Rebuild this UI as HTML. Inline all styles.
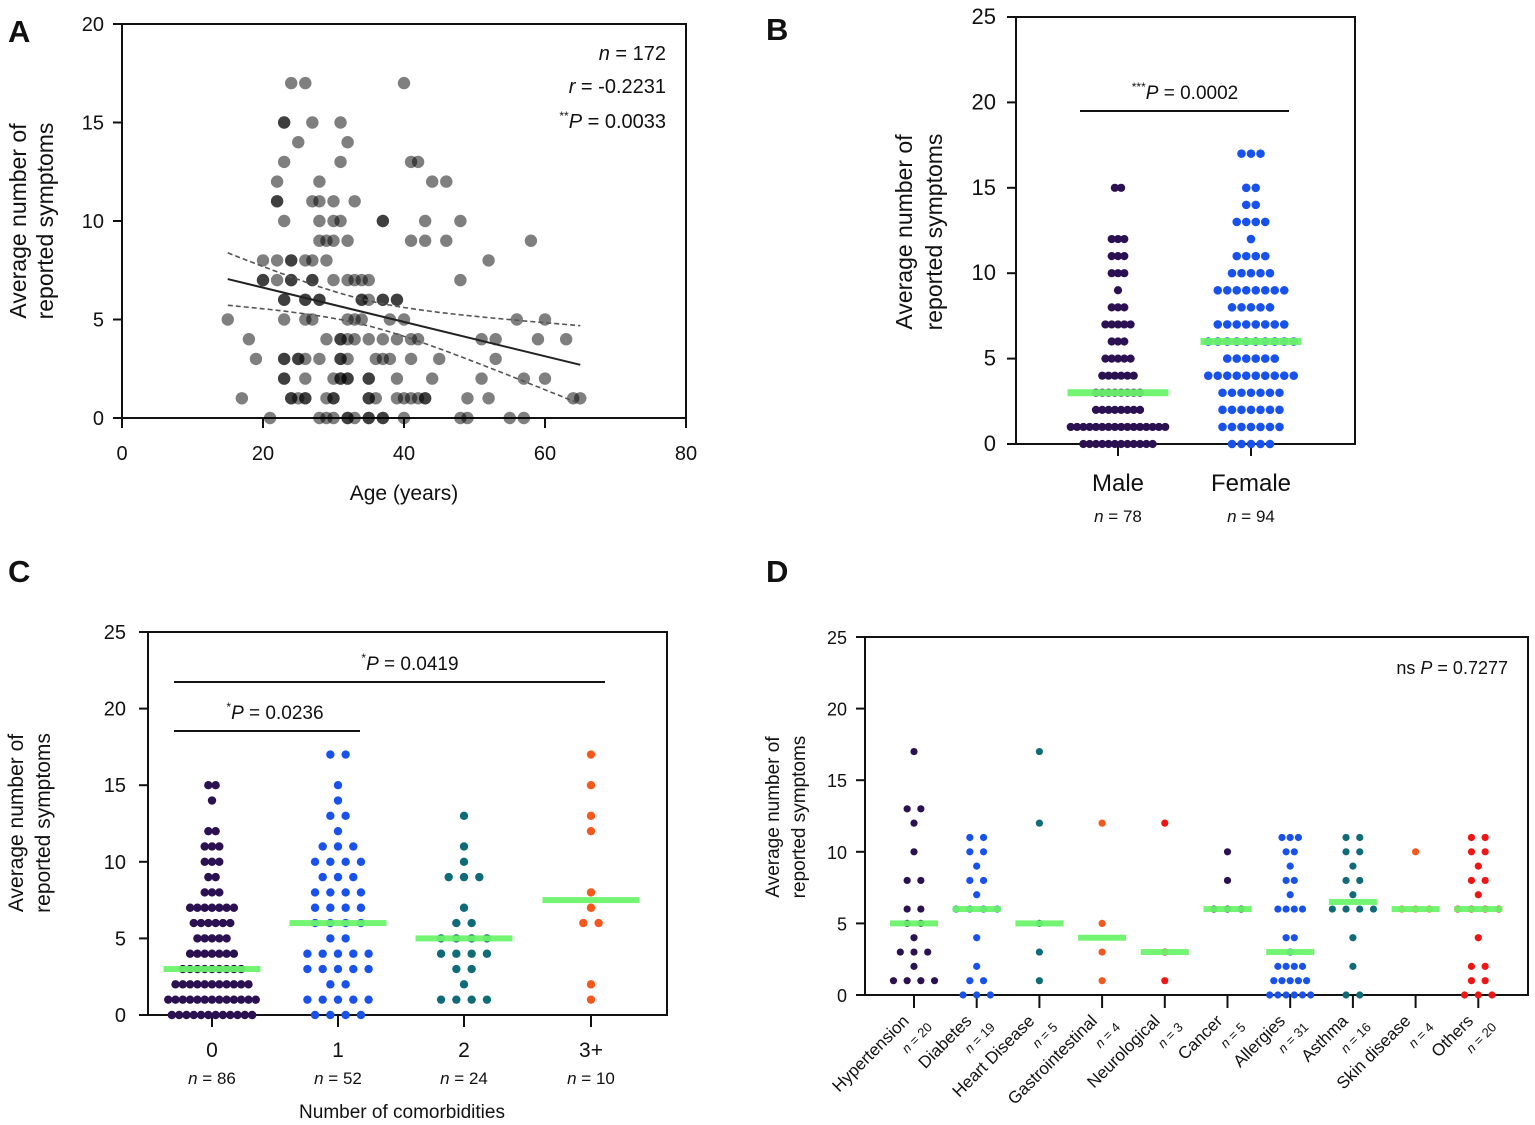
<!DOCTYPE html>
<html><head><meta charset="utf-8"><style>
html,body{margin:0;padding:0;background:#fff;}
svg{display:block;font-family:"Liberation Sans",Arial,sans-serif;}
</style></head><body>
<svg id="fig" width="1535" height="1125" viewBox="0 0 1535 1125" xmlns="http://www.w3.org/2000/svg"></svg>
<script>
// ===== Panel A data =====
const agesA = [24,26,40, 23,23,27,31, 25,32, 23,31,41,42, 22,28,44,46, 22,22,27,28,30,33,
 23,28,30,31,37,37,43,48, 28,29,30,32,41,43,46,58, 20,22,24,24,26,27,29,52,
 20,20,22,24,24,27,27,30,32,33,34,35,48, 23,23,26,26,28,28,34,34,35,37,37,39,39,
 15,23,26,27,32,33,34,38,40,56,60, 18,29,31,31,32,33,35,37,39,41,42,51,53,59,63,
 19,23,23,25,25,26,28,31,31,32,36,37,38,41,45,53, 23,23,26,30,31,31,32,32,35,35,39,44,51,57,60,
 17,24,24,25,26,26,29,30,30,35,35,36,39,40,41,42,43,43,49,52,64,65,
 21,28,29,30,32,32,33,35,35,37,37,40,48,49,55,57];
const symA = [17,17,17, 15,15,15,15, 14,14, 13,13,13,13, 12,12,12,12, 11,11,11,11,11,11,
 10,10,10,10,10,10,10,10, 9,9,9,9,9,9,9,9, 8,8,8,8,8,8,8,8,
 7,7,7,7,7,7,7,7,7,7,7,7,7, 6,6,6,6,6,6,6,6,6,6,6,6,6,
 5,5,5,5,5,5,5,5,5,5,5, 4,4,4,4,4,4,4,4,4,4,4,4,4,4,4,
 3,3,3,3,3,3,3,3,3,3,3,3,3,3,3,3, 2,2,2,2,2,2,2,2,2,2,2,2,2,2,2,
 1,1,1,1,1,1,1,1,1,1,1,1,1,1,1,1,1,1,1,1,1,1,
 0,0,0,0,0,0,0,0,0,0,0,0,0,0,0,0];
const xTicksA = [0,20,40,60,80];
const yTicksA = [0,5,10,15,20];
// ===== Panel B data (counts per symptom value 0..17) =====
const catsB = ["Male","Female"];
const nB = [78,94];
const maleCounts   = [12,16,8,8,6,5,3,5,3,1,3,3,3,0,0,2,0,0];
const femaleCounts = [5,7,7,7,10,6,10,8,5,8,5,4,1,4,2,2,0,3];
const mediansB = [3,6];
const yTicksB = [0,5,10,15,20,25];
// ===== Panel C data =====
const catsC = ["0","1","2","3+"];
const nC = [86,52,24,10];
const c0Counts = [12,13,11,9,7,5,6,7,3,2,3,3,2,0,1,2,0,0];
const c1Counts = [4,5,2,5,5,2,4,4,4,3,4,3,1,2,1,1,0,2];
const c2Counts = [0,4,1,2,4,4,2,1,0,3,1,1,0,1,0,0,0,0];
const c3Counts = [0,1,1,0,0,0,2,1,1,0,0,0,1,1,0,1,0,1];
const mediansC = [3,6,5,7.5];
const yTicksC = [0,5,10,15,20,25];
// ===== Panel D data =====
const catsD = ["Hypertension","Diabetes","Heart Disease","Gastrointestinal","Neurological","Cancer","Allergies","Asthma","Skin disease","Others"];
const nD = [20,19,5,4,3,5,31,16,4,20];
const d0 = [0,4,1,3,1,2,2,0,2,0,1,0,1,2,0,0,0,1];
const d1 = [3,2,1,0,1,0,4,1,2,1,2,2,0,0,0,0,0,0];
const d2 = [0,1,0,1,0,1,0,0,0,0,0,0,1,0,0,0,0,1];
const d3 = [0,1,0,1,0,1,0,0,0,0,0,0,1,0,0,0,0,0];
const d4 = [0,1,0,1,0,0,0,0,0,0,0,0,1,0,0,0,0,0];
const d5 = [0,0,0,0,0,0,3,0,1,0,1,0,0,0,0,0,0,0];
const d6 = [6,5,4,1,2,0,4,1,2,1,2,3,0,0,0,0,0,0];
const d7 = [2,0,1,0,1,0,4,1,2,1,2,2,0,0,0,0,0,0];
const d8 = [0,0,0,0,0,0,3,0,0,0,1,0,0,0,0,0,0,0];
const d9 = [3,2,2,0,1,0,4,1,2,1,2,2,0,0,0,0,0,0];
const mediansD = [5,6,5,4,3,6,3,6.5,6,6];
const yTicksD = [0,5,10,15,20,25];

const NS="http://www.w3.org/2000/svg";
const svg=document.getElementById('fig');
function el(tag,attrs,parent){const e=document.createElementNS(NS,tag);for(const k in attrs)e.setAttribute(k,attrs[k]);(parent||svg).appendChild(e);return e;}
function txt(x,y,s,size,anchor,parent,extra){const t=el('text',Object.assign({x:x,y:y,'font-size':size,'text-anchor':anchor||'middle',fill:'#111'},extra||{}),parent);t.innerHTML=s;return t;}
function lin(d0,d1,r0,r1){return v=>r0+(v-d0)*(r1-r0)/(d1-d0);}

function frame(g,L,T,R,B,yTicks,ys,labX,fs){
  const f=el('rect',{x:L,y:T,width:R-L,height:B-T,fill:'none',stroke:'#111','stroke-width':2},g);
  
  yTicks.forEach(v=>{
    const l=el('line',{x1:L-9,x2:L,y1:ys(v),y2:ys(v),stroke:'#111','stroke-width':2},g);
    
    const t=txt(labX,ys(v)+7,String(v),fs,'end',g);
    
  });
}
function ytitle(g,x,cy,size,gap){
  const t=el('text',{transform:`translate(${x},${cy}) rotate(-90)`,'font-size':size,'text-anchor':'middle',fill:'#111'},g);
  
  const a=el('tspan',{x:0,dy:0},t);a.textContent='Average number of';
  const b=el('tspan',{x:0,dy:gap},t);b.textContent='reported symptoms';
}
function letter(g,x,y,s){const t=txt(x,y,s,31,'start',g,{'font-weight':'bold'});}
function dots(g,cx,counts,ys,step,r,color){
  counts.forEach((n,v)=>{for(let i=0;i<n;i++){
    const c=el('circle',{cx:cx+(i-(n-1)/2)*step,cy:ys(v),r:r,fill:color},g);
    
  }});
}
function median(g,cx,v,ys,w,h){const m=el('rect',{x:cx-w/2,y:ys(v)-h/2,width:w,height:h,fill:'#6cf46c','fill-opacity':0.95},g);}
function sigbar(g,x1,x2,y,label,lx,fs){
  const l=el('line',{x1:x1,x2:x2,y1:y,y2:y,stroke:'#111','stroke-width':2},g);
  const t=txt(lx,y-12,label,fs,'middle',g);
}

// ===== Panel A =====
{
const g=el('g',{});
letter(g,8,42,'A');
const L=122,T=24,R=686,B=418;
const xs=lin(0,80,L,R), ys=lin(0,20,B,T);
frame(g,L,T,R,B,yTicksA,ys,104,20);
xTicksA.forEach(v=>{
  const l=el('line',{x1:xs(v),x2:xs(v),y1:B,y2:B+10,stroke:'#111','stroke-width':2},g);
  const t=txt(xs(v),B+42,String(v),20,'middle',g);
});
agesA.forEach((a,i)=>{const c=el('circle',{cx:xs(a),cy:ys(symA[i]),r:6.2,fill:'#000','fill-opacity':0.5},g);});
const n=agesA.length;const mx=agesA.reduce((s,v)=>s+v,0)/n,my=symA.reduce((s,v)=>s+v,0)/n;
let sxx=0,sxy=0;agesA.forEach((a,i)=>{sxx+=(a-mx)**2;sxy+=(a-mx)*(symA[i]-my);});
const b=sxy/sxx,a0=my-b*mx;let sse=0;agesA.forEach((a,i)=>{sse+=(symA[i]-a0-b*a)**2;});
const s=Math.sqrt(sse/(n-2));const x0=Math.min(...agesA),x1=Math.max(...agesA);
const reg=el('line',{x1:xs(x0),y1:ys(a0+b*x0),x2:xs(x1),y2:ys(a0+b*x1),stroke:'#222','stroke-width':2},g);
['upper','lower'].forEach((k,j)=>{let d='';for(let x=x0;x<=x1+0.01;x+=0.5){const se=1.974*s*Math.sqrt(1/n+(x-mx)**2/sxx);const y=a0+b*x+(j?-se:se);d+=(d?'L':'M')+xs(x).toFixed(1)+','+ys(y).toFixed(1);}
  const p=el('path',{d:d,fill:'none',stroke:'#555','stroke-width':1.6,'stroke-dasharray':'5,3'},g);});
const t1=txt(666,60,'<tspan font-style="italic">n</tspan> = 172',20,'end',g);
const t2=txt(666,93,'<tspan font-style="italic">r</tspan> = -0.2231',20,'end',g);
const t3=txt(666,128,'<tspan font-size="12" dy="-8">**</tspan><tspan font-style="italic" dy="8">P</tspan> = 0.0033',20,'end',g);
ytitle(g,26,221,23,27);
const xt=txt(404,500,'Age (years)',21,'middle',g);
}
// ===== Panel B =====
{
const g=el('g',{});
letter(g,766,40,'B');
const L=1016,T=17,R=1355,B=444;const ys=lin(0,25,B,T);const xc=[1118,1251];
frame(g,L,T,R,B,yTicksB,ys,996,22);
xc.forEach((x,i)=>{
  const l=el('line',{x1:x,x2:x,y1:B,y2:B+12,stroke:'#111','stroke-width':2},g);
  const t=txt(x,491,catsB[i],24,'middle',g);
  const m=txt(x,522,'<tspan font-style="italic">n</tspan> = '+nB[i],17,'middle',g);
});
dots(g,xc[0],maleCounts,ys,6.3,4.1,'#2b1152');
dots(g,xc[1],femaleCounts,ys,9.5,4.3,'#1852ea');
median(g,xc[0],mediansB[0],ys,101,7);median(g,xc[1],mediansB[1],ys,101,7);
sigbar(g,1080,1289,111,'<tspan font-size="12" dy="-8">***</tspan><tspan font-style="italic" dy="8">P</tspan> = 0.0002',1185,19);
ytitle(g,912,232,23,30);
}
// ===== Panel C =====
{
const g=el('g',{});
letter(g,8,582,'C');
const L=148,T=632,R=667,B=1015;const ys=lin(0,25,B,T);const xc=[212,338,464,591];
frame(g,L,T,R,B,yTicksC,ys,126,20);
const cs=[c0Counts,c1Counts,c2Counts,c3Counts],cols=['#2b1152','#1852ea','#0f6b78','#f5571c'],st=[7.3,15.3,15.3,15.3];
xc.forEach((x,i)=>{
  const l=el('line',{x1:x,x2:x,y1:B,y2:B+12,stroke:'#111','stroke-width':2},g);
  const t=txt(x,1057,catsC[i],21,'middle',g);
  const m=txt(x,1084,'<tspan font-style="italic">n</tspan> = '+nC[i],17,'middle',g);
  dots(g,x,cs[i],ys,st[i],4.2,cols[i]);
  median(g,x,mediansC[i],ys,97,6);
});
sigbar(g,174,360,731,'<tspan font-size="12" dy="-8">*</tspan><tspan font-style="italic" dy="8">P</tspan> = 0.0236',275,19);
sigbar(g,174,605,682,'<tspan font-size="12" dy="-8">*</tspan><tspan font-style="italic" dy="8">P</tspan> = 0.0419',410,19);
ytitle(g,23,823,21,27);
const xt=txt(402,1118,'Number of comorbidities',19,'middle',g);
}
// ===== Panel D =====
{
const g=el('g',{});
letter(g,766,582,'D');
const L=865,T=637,R=1528,B=995;const ys=lin(0,25,B,T);
frame(g,L,T,R,B,yTicksD,ys,847,18);
const ds=[d0,d1,d2,d3,d4,d5,d6,d7,d8,d9];
const cols=['#2b1152','#1852ea','#0f6b78','#f5571c','#ee1515','#2b1152','#1852ea','#0f6b78','#f5571c','#ee1515'];
catsD.forEach((c,i)=>{
  const x=914+i*62.7;
  const l=el('line',{x1:x,x2:x,y1:B,y2:B+13,stroke:'#111','stroke-width':2},g);
  dots(g,x,ds[i],ys,i===6?8.2:13.7,3.6,cols[i]);
  median(g,x,mediansD[i],ys,48,6);
  const t=txt(0,0,c,17,'end',g,{transform:`translate(${x-4},${1022}) rotate(-45)`});
  const m=txt(0,0,'<tspan font-style="italic">n</tspan> = '+nD[i],13,'end',g,{transform:`translate(${x+19},${1028}) rotate(-45)`});
});
const p=txt(1508,674,'ns <tspan font-style="italic">P</tspan> = 0.7277',18,'end',g);
ytitle(g,779,817,19,26);
}
</script>
</body></html>
